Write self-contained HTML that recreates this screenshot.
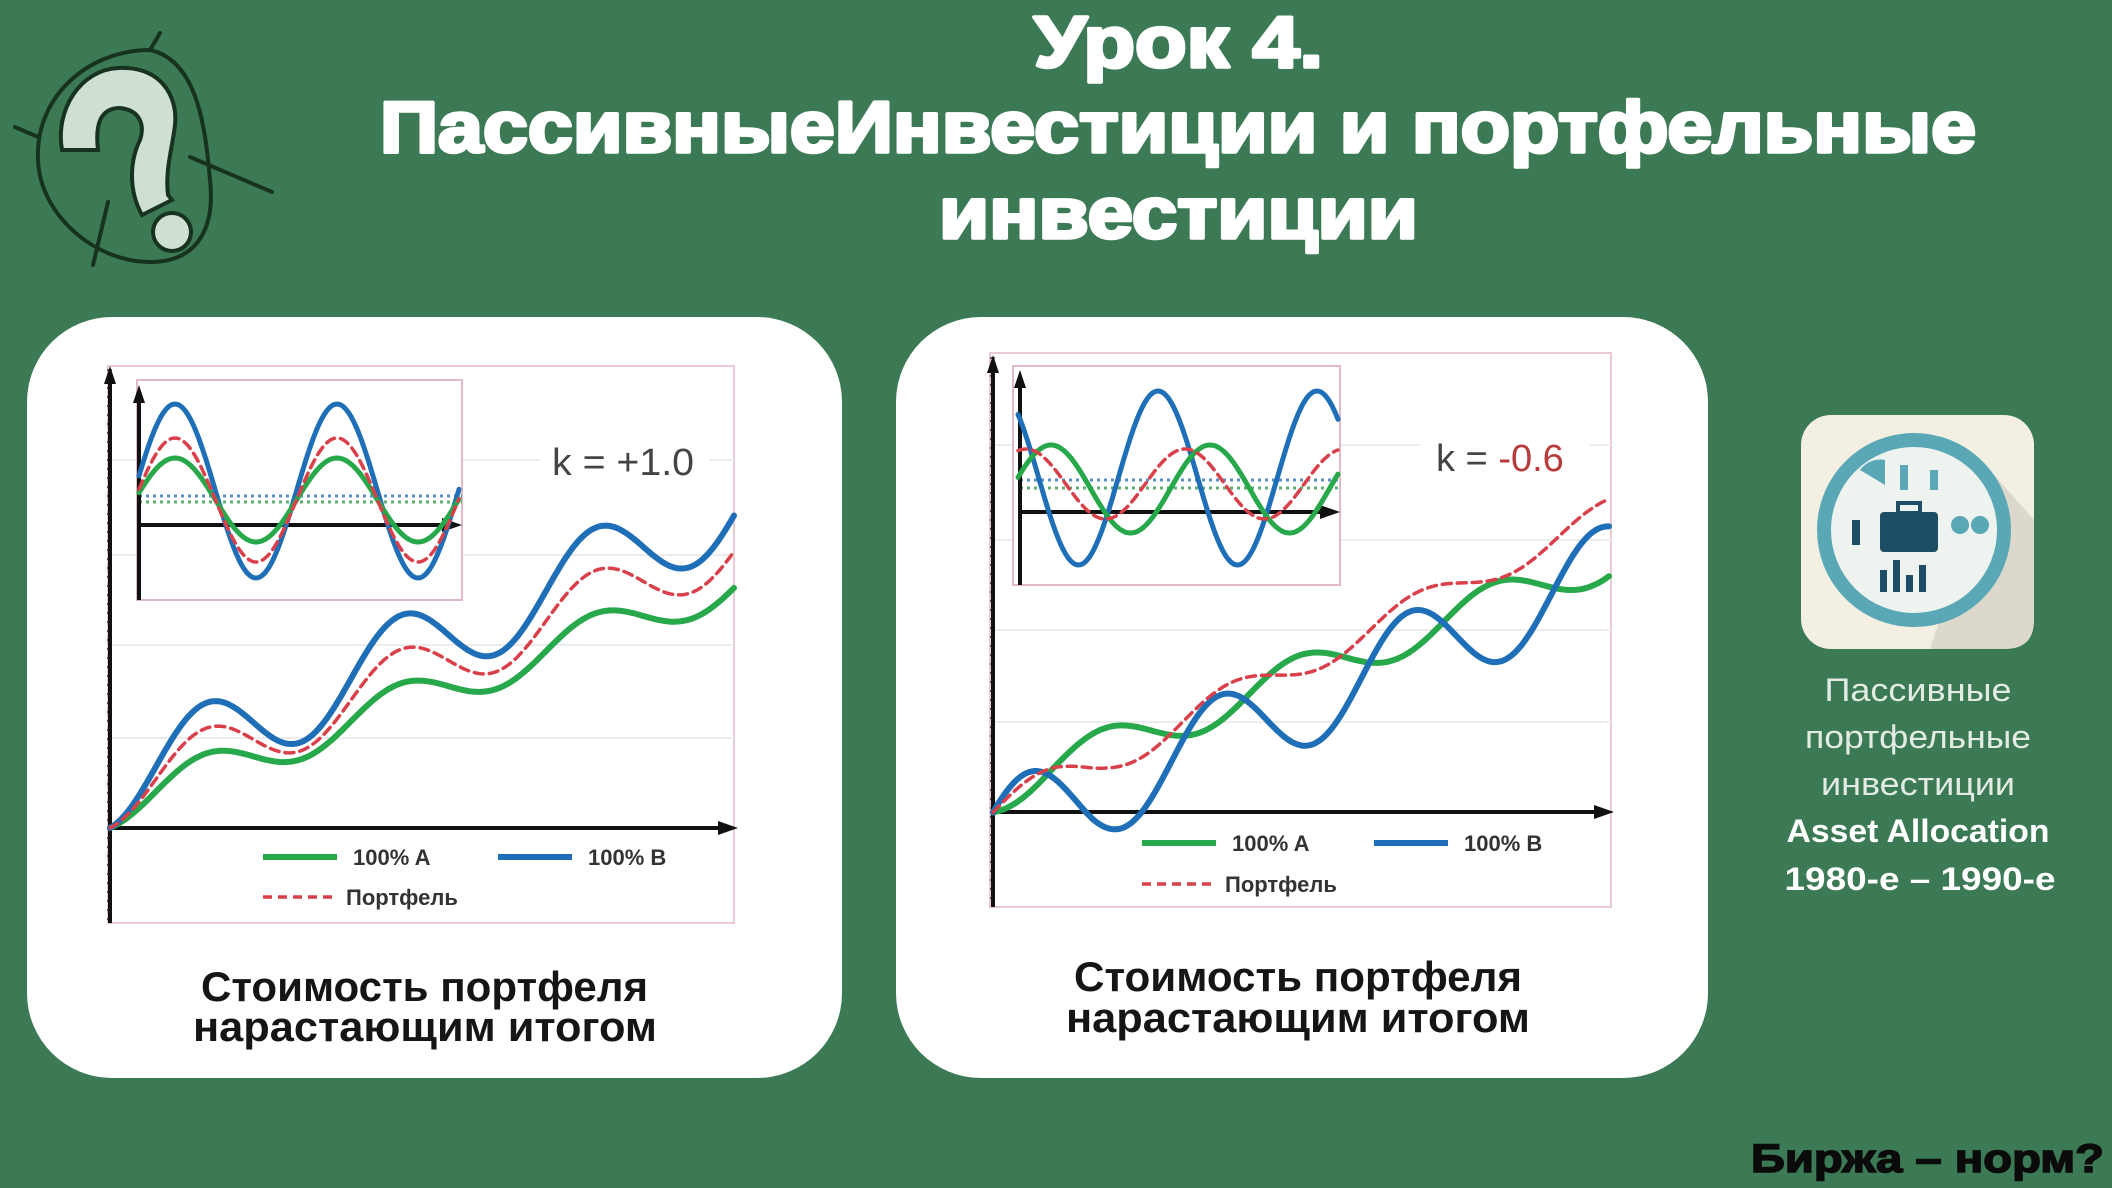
<!DOCTYPE html>
<html><head><meta charset="utf-8"><style>
html,body{margin:0;padding:0;background:#3b7a54;}
svg{display:block}
</style></head><body>
<svg id="s" width="2112" height="1188" viewBox="0 0 2112 1188" xmlns="http://www.w3.org/2000/svg">
<rect width="2112" height="1188" fill="#3b7a54"/>
<!-- logo -->
<g fill="none" stroke="#17331f" stroke-width="4" stroke-linecap="round">
<path d="M150,50 C90,50 35,95 38,160 C40,215 95,262 150,262 C200,262 215,225 210,180 C205,120 195,60 150,50 Z"/>
<line x1="150" y1="50" x2="160" y2="33"/><line x1="15" y1="127" x2="38" y2="137"/>
<line x1="190" y1="157" x2="272" y2="192"/><line x1="108" y1="202" x2="93" y2="265"/>
</g>
<path d="M62,150 C55,110 80,70 118,68 C160,66 178,95 175,125 C172,150 165,170 168,195 L172,200 L142,215 C128,190 130,160 140,140 C145,125 140,110 120,108 C100,108 95,125 98,150 Z" fill="#cfe0d3" stroke="#17331f" stroke-width="4"/>
<circle cx="172" cy="232" r="19" fill="#cfe0d3" stroke="#17331f" stroke-width="4"/>
<!-- title -->
<g fill="#ffffff" stroke="#ffffff" stroke-width="3.5" stroke-linejoin="round" font-family="Liberation Sans, sans-serif" font-weight="bold" text-anchor="start">
<text x="1034" y="67" font-size="72" textLength="289" lengthAdjust="spacingAndGlyphs">Урок 4.</text>
<text x="380" y="152" font-size="72" textLength="1596" lengthAdjust="spacingAndGlyphs">ПассивныеИнвестиции и портфельные</text>
<text x="939" y="238" font-size="72" textLength="479" lengthAdjust="spacingAndGlyphs">инвестиции</text>
</g>
<!-- cards -->
<rect x="27" y="317" width="815" height="761" rx="85" fill="#fff"/>
<rect x="896" y="317" width="812" height="761" rx="85" fill="#fff"/>
<g id="charts"></g>
<g fill="#151515" font-family="Liberation Sans, sans-serif" font-weight="bold" font-size="42">
<text x="201" y="1001" textLength="447" lengthAdjust="spacingAndGlyphs">Стоимость портфеля</text>
<text x="193" y="1041" textLength="464" lengthAdjust="spacingAndGlyphs">нарастающим итогом</text>
<text x="1074" y="991" textLength="448" lengthAdjust="spacingAndGlyphs">Стоимость портфеля</text>
<text x="1066" y="1032" textLength="464" lengthAdjust="spacingAndGlyphs">нарастающим итогом</text>
</g>
<!-- icon -->
<rect x="1801" y="415" width="233" height="234" rx="30" fill="#f3efe2"/>
<path d="M1990,470 L2034,520 L2034,620 Q2034,649 2005,649 L1930,649 Z" fill="#dcd8cc"/>
<circle cx="1914" cy="530" r="90" fill="#eef3ef" stroke="#5aa8b5" stroke-width="14"/>
<rect x="1880" y="512" width="58" height="40" rx="4" fill="#1d4e66"/>
<rect x="1898" y="503" width="22" height="10" fill="none" stroke="#1d4e66" stroke-width="4"/>
<g fill="#1d4e66"><rect x="1880" y="570" width="7" height="22"/><rect x="1893" y="560" width="7" height="32"/><rect x="1906" y="575" width="7" height="17"/><rect x="1919" y="565" width="7" height="27"/><rect x="1852" y="520" width="8" height="25"/></g>
<g fill="#5aa8b5"><circle cx="1960" cy="525" r="9"/><circle cx="1980" cy="525" r="9"/><path d="M1860,470 a25,25 0 0 1 25,-10 l0,25 z"/><rect x="1930" y="470" width="8" height="20"/><rect x="1900" y="465" width="8" height="25"/></g>
<g fill="#e3ebe4" font-family="Liberation Sans, sans-serif" font-size="32" text-anchor="middle">
<text x="1918" y="701" textLength="187" lengthAdjust="spacingAndGlyphs">Пассивные</text>
<text x="1918" y="748" textLength="226" lengthAdjust="spacingAndGlyphs">портфельные</text>
<text x="1918" y="795" textLength="194" lengthAdjust="spacingAndGlyphs">инвестиции</text>
<text x="1918" y="842" font-weight="bold" fill="#fff" textLength="263" lengthAdjust="spacingAndGlyphs">Asset Allocation</text>
<text x="1920" y="890" font-weight="bold" fill="#fff" textLength="271" lengthAdjust="spacingAndGlyphs">1980-е – 1990-е</text>
</g>
<text x="1751" y="1172" font-family="Liberation Sans, sans-serif" font-weight="bold" font-size="40" fill="#0b0b0b" stroke="#0b0b0b" stroke-width="1.5" textLength="353" lengthAdjust="spacingAndGlyphs">Биржа – норм?</text>
</svg>
<script>
const G="#27a84a",B="#1f6fb8",R="#d9404a";
const g=document.getElementById('charts');let h='';
function path(fn,x0,x1,col,w,dash){let d='';for(let x=x0;x<=x1;x+=2){d+=(x==x0?'M':'L')+x.toFixed(1)+','+fn(x).toFixed(1);}
return `<path d="${d}" fill="none" stroke="${col}" stroke-width="${w}" ${dash?'stroke-dasharray="9,6"':''} stroke-linecap="round"/>`;}
function frame(x0,y0,x1,y1){return `<rect x="${x0}" y="${y0}" width="${x1-x0}" height="${y1-y0}" fill="none" stroke="#e9c9d2" stroke-width="2"/>`;}
function axes(ox,oy,xr,yt,yb,w){return `<line x1="${ox}" y1="${yb}" x2="${ox}" y2="${yt+12}" stroke="#111" stroke-width="${w}"/><polygon points="${ox-6},${yt+18} ${ox+6},${yt+18} ${ox},${yt}" fill="#111"/><line x1="${ox}" y1="${oy}" x2="${xr-14}" y2="${oy}" stroke="#111" stroke-width="${w}"/><polygon points="${xr-20},${oy-7} ${xr-20},${oy+7} ${xr},${oy}" fill="#111"/>`;}
function grid(x0,x1,ys){return ys.map(y=>`<line x1="${x0}" y1="${y}" x2="${x1}" y2="${y}" stroke="#ececec" stroke-width="2"/>`).join('');}
function ticks(x,y0,y1){let s='';for(let y=y0;y<=y1;y+=9)s+=`<line x1="${x-3}" y1="${y}" x2="${x+2}" y2="${y}" stroke="#333" stroke-width="1.5"/>`;return s;}
function legend(xg,xb,y,yr){return `<line x1="${xg}" y1="${y}" x2="${xg+74}" y2="${y}" stroke="${G}" stroke-width="6"/><text x="${xg+90}" y="${y+8}" font-size="22" font-weight="bold" fill="#333" font-family="Liberation Sans, sans-serif">100% A</text>
<line x1="${xb}" y1="${y}" x2="${xb+74}" y2="${y}" stroke="${B}" stroke-width="6"/><text x="${xb+90}" y="${y+8}" font-size="22" font-weight="bold" fill="#333" font-family="Liberation Sans, sans-serif">100% B</text>
<line x1="${xg}" y1="${yr}" x2="${xg+74}" y2="${yr}" stroke="${R}" stroke-width="3.5" stroke-dasharray="9,6"/><text x="${xg+83}" y="${yr+8}" font-size="22" font-weight="bold" fill="#333" font-family="Liberation Sans, sans-serif">Портфель</text>`;}
const TP=2*Math.PI;
// LEFT chart
h+=frame(108,366,734,923)+grid(110,734,[460,555,645,738]);
h+=ticks(110,370,920)+axes(110,828,738,366,923,4);
function L(s,A){return x=>{const t=x-110;return 828-(s*t+A*Math.sin(TP*(t-46)/195)+A*Math.sin(TP*46/195));};}
h+=path(L(0.36,20),110,734,G,6)+path(L(0.45,41),110,734,B,6)+path(L(0.405,30.5),110,734,R,3.5,1);
// left inset
h+=`<rect x="137" y="380" width="325" height="220" fill="#fff" stroke="#e2b9c6" stroke-width="2"/>`;
h+=`<line x1="139" y1="496" x2="462" y2="496" stroke="#5a8ec8" stroke-width="3" stroke-dasharray="3,4"/><line x1="139" y1="502" x2="462" y2="502" stroke="#5fae72" stroke-width="3" stroke-dasharray="3,4"/>`;
h+=axes(139,525,462,385,600,4);
const si=(c,a)=>x=>c-a*Math.sin(TP*(x-134.5)/162);
h+=path(si(491,87),139,460,B,5)+path(si(500,42),139,460,G,5)+path(si(500,62),139,460,R,3.5,1);
h+=`<rect x="540" y="430" width="170" height="60" fill="#fff"/><text x="552" y="475" font-size="38" fill="#444" font-family="Liberation Sans, sans-serif" textLength="142" lengthAdjust="spacingAndGlyphs">k = +1.0</text>`;
h+=legend(263,498,857,897);
// RIGHT chart
h+=frame(990,353,1611,907)+grid(993,1611,[445,540,630,722]);
h+=ticks(993,358,905)+axes(993,812,1614,355,907,4);
const gf=t=>0.374*t+22+20*Math.cos(TP*(t-110)/195)-Math.max(0,4*(1-t/60));
const bf=t=>0.44*t-28+45*Math.cos(TP*(t-226)/190)+11*Math.max(0,1-t/100);
const rf=t=>(gf(t)+bf(t))/2+0.085*t;
h+=path(x=>812-gf(x-993),993,1610,G,6)+path(x=>812-bf(x-993),993,1610,B,6)+path(x=>812-rf(x-993),993,1610,R,3.5,1);
// right inset
h+=`<rect x="1013" y="366" width="327" height="219" fill="#fff" stroke="#e2b9c6" stroke-width="2"/>`;
h+=`<line x1="1020" y1="480" x2="1340" y2="480" stroke="#5a8ec8" stroke-width="3" stroke-dasharray="3,4"/><line x1="1020" y1="488" x2="1340" y2="488" stroke="#5fae72" stroke-width="3" stroke-dasharray="3,4"/>`;
h+=axes(1020,512,1340,370,585,4);
const cs=(c,a,pk)=>x=>c-a*Math.cos(TP*(x-pk)/159);
h+=path(cs(478,87,1158),1018,1338,B,5)+path(cs(489,44,1051),1018,1338,G,5)+path(cs(484,35,1185),1018,1338,R,3.5,1);
h+=`<rect x="1420" y="425" width="170" height="60" fill="#fff"/><text x="1436" y="471" font-size="38" fill="#444" font-family="Liberation Sans, sans-serif">k = <tspan fill="#b83b3b">-0.6</tspan></text>`;
h+=legend(1142,1374,843,884);
g.innerHTML=h;
</script>
</body></html>
